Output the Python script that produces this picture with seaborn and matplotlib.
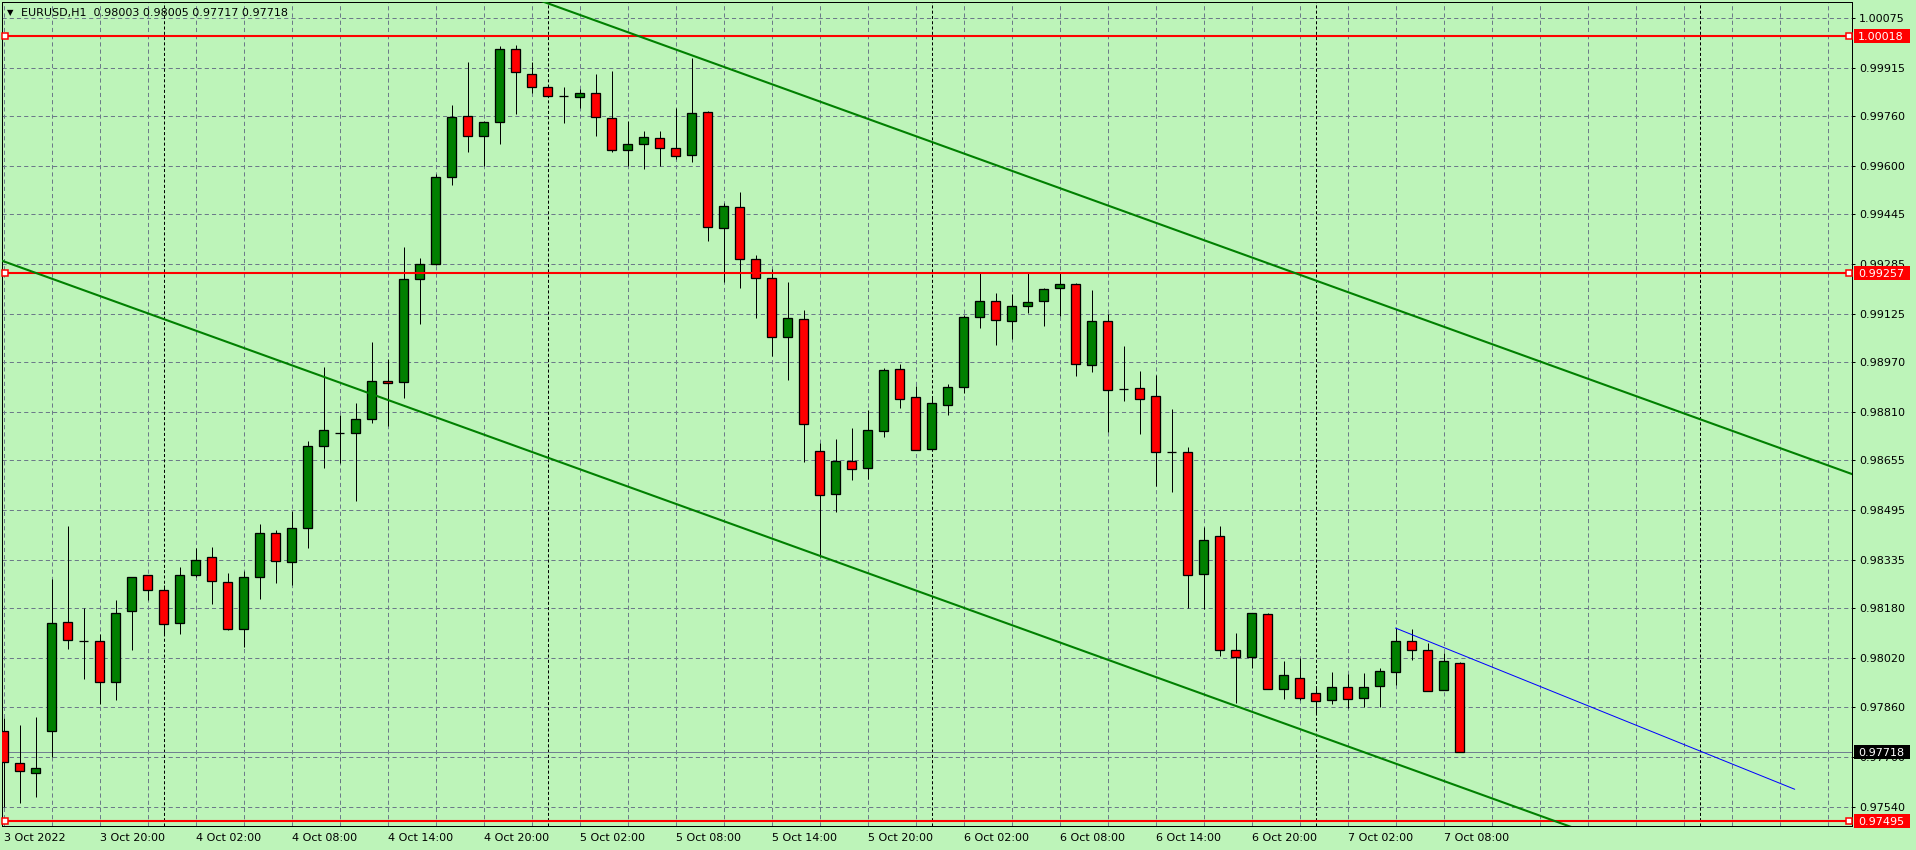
import matplotlib
matplotlib.use("Agg")
import matplotlib.pyplot as plt
from matplotlib.patches import Rectangle
import seaborn as sns

# --- data (EURUSD H1, bar 0 = 3 Oct 2022 14:00) ---
header = "EURUSD,H1  0.98003 0.98005 0.97717 0.97718"

opens = [0.97783, 0.97680, 0.97648, 0.97783, 0.98133, 0.98074, 0.98072, 0.97941, 0.98169, 0.98284,
         0.98236, 0.98130, 0.98284, 0.98342, 0.98262, 0.98111, 0.98278, 0.98419, 0.98326, 0.98435,
         0.98699, 0.98743, 0.98741, 0.98786, 0.98910, 0.98905, 0.99237, 0.99284, 0.99563, 0.99759,
         0.99695, 0.99740, 0.99974, 0.99894, 0.99852, 0.99825, 0.99820, 0.99833, 0.99753, 0.99650,
         0.99669, 0.99689, 0.99656, 0.99634, 0.99772, 0.99399, 0.99467, 0.99300, 0.99239, 0.99049,
         0.99107, 0.98683, 0.98545, 0.98651, 0.98628, 0.98747, 0.98946, 0.98856, 0.98689, 0.98831,
         0.98888, 0.99113, 0.99165, 0.99101, 0.99149, 0.99165, 0.99207, 0.99219, 0.98959, 0.99101,
         0.98882, 0.98885, 0.98860, 0.98680, 0.98680, 0.98288, 0.98410, 0.98043, 0.98021, 0.98159,
         0.97918, 0.97954, 0.97905, 0.97883, 0.97925, 0.97889, 0.97928, 0.97973, 0.98072, 0.98043,
         0.97915, 0.98003]
highs = [0.97825, 0.97803, 0.97829, 0.98274, 0.98443, 0.98178, 0.98096, 0.98205, 0.98278, 0.98285,
         0.98253, 0.98311, 0.98372, 0.98375, 0.98292, 0.98298, 0.98449, 0.98430, 0.98491, 0.98716,
         0.98954, 0.98799, 0.98838, 0.99033, 0.98980, 0.99339, 0.99303, 0.99574, 0.99795, 0.99934,
         0.99744, 0.99985, 0.99988, 0.99934, 0.99852, 0.99852, 0.99846, 0.99895, 0.99905, 0.99744,
         0.99712, 0.99712, 0.99785, 0.99946, 0.99775, 0.99480, 0.99515, 0.99313, 0.99268, 0.99226,
         0.99136, 0.98709, 0.98722, 0.98758, 0.98815, 0.98950, 0.98963, 0.98892, 0.98853, 0.98899,
         0.99121, 0.99257, 0.99190, 0.99188, 0.99257, 0.99207, 0.99257, 0.99223, 0.99200, 0.99123,
         0.99020, 0.98940, 0.98928, 0.98818, 0.98696, 0.98441, 0.98443, 0.98099, 0.98162, 0.98162,
         0.98009, 0.98020, 0.97929, 0.97973, 0.97966, 0.97970, 0.97986, 0.98115, 0.98111, 0.98066,
         0.98034, 0.98005]
lows = [0.97541, 0.97554, 0.97573, 0.97702, 0.98049, 0.97952, 0.97871, 0.97884, 0.98044, 0.98205,
        0.98093, 0.98097, 0.98280, 0.98193, 0.98110, 0.98055, 0.98209, 0.98259, 0.98253, 0.98373,
        0.98630, 0.98646, 0.98524, 0.98775, 0.98765, 0.98855, 0.99093, 0.99280, 0.99538, 0.99645,
        0.99600, 0.99669, 0.99768, 0.99833, 0.99823, 0.99739, 0.99787, 0.99697, 0.99645, 0.99599,
        0.99591, 0.99599, 0.99621, 0.99613, 0.99359, 0.99228, 0.99208, 0.99112, 0.98989, 0.98913,
        0.98649, 0.98344, 0.98489, 0.98591, 0.98595, 0.98730, 0.98823, 0.98686, 0.98689, 0.98800,
        0.98869, 0.99080, 0.99025, 0.99044, 0.99128, 0.99086, 0.99119, 0.98926, 0.98939, 0.98746,
        0.98845, 0.98739, 0.98572, 0.98551, 0.98179, 0.98177, 0.98026, 0.97874, 0.97987, 0.97918,
        0.97888, 0.97885, 0.97843, 0.97870, 0.97859, 0.97860, 0.97860, 0.97933, 0.98013, 0.97912,
        0.97915, 0.97717]
closes = [0.97684, 0.97655, 0.97664, 0.98130, 0.98076, 0.98074, 0.97941, 0.98162, 0.98278, 0.98236,
          0.98127, 0.98284, 0.98333, 0.98265, 0.98111, 0.98278, 0.98419, 0.98329, 0.98435, 0.98699,
          0.98750, 0.98743, 0.98786, 0.98908, 0.98901, 0.99235, 0.99285, 0.99564, 0.99756, 0.99695,
          0.99740, 0.99974, 0.99901, 0.99852, 0.99823, 0.99825, 0.99833, 0.99756, 0.99650, 0.99669,
          0.99692, 0.99656, 0.99631, 0.99769, 0.99403, 0.99470, 0.99300, 0.99239, 0.99049, 0.99110,
          0.98770, 0.98541, 0.98651, 0.98625, 0.98750, 0.98943, 0.98850, 0.98686, 0.98837, 0.98888,
          0.99113, 0.99165, 0.99104, 0.99149, 0.99162, 0.99203, 0.99219, 0.98962, 0.99101, 0.98879,
          0.98882, 0.98850, 0.98680, 0.98680, 0.98284, 0.98397, 0.98043, 0.98021, 0.98162, 0.97918,
          0.97963, 0.97889, 0.97880, 0.97925, 0.97886, 0.97925, 0.97976, 0.98072, 0.98043, 0.97912,
          0.98008, 0.97718]

x_labels = ["3 Oct 2022", "3 Oct 20:00", "4 Oct 02:00", "4 Oct 08:00", "4 Oct 14:00", "4 Oct 20:00",
            "5 Oct 02:00", "5 Oct 08:00", "5 Oct 14:00", "5 Oct 20:00", "6 Oct 02:00", "6 Oct 08:00",
            "6 Oct 14:00", "6 Oct 20:00", "7 Oct 02:00", "7 Oct 08:00"]
y_ticks = [1.00075, 0.99915, 0.99760, 0.99600, 0.99445, 0.99285, 0.99125, 0.98970, 0.98810,
           0.98655, 0.98495, 0.98335, 0.98180, 0.98020, 0.97860, 0.97700, 0.97540]
levels = [1.00018, 0.99257, 0.97495]
last_price = 0.97718
midnights = [10, 34, 58, 82, 106]          # bar index of day start
upper_bars, upper_prices = [33, 116], [1.00141, 0.98601]
lower_bars, lower_prices = [-1, 99], [0.99312, 0.97457]
short_bars, short_prices = [87, 111.95], [0.98115, 0.97597]

# --- style ---
W, H = 1916, 850
PX = 0.72
bg = "#bdf4b9"
grid_c = "#6c7a89"
sns.set_style("white", {"axes.facecolor": bg, "figure.facecolor": bg})
plt.rcParams["font.family"] = ["DejaVu Sans"]
plt.rcParams["lines.scale_dashes"] = False

fig = plt.figure(figsize=(W / 100, H / 100), dpi=100)
ax = fig.add_axes([2 / W, 24 / H, 1850 / W, 824 / H])
ax.set_xlim(-0.094, 115.53)
ax.set_ylim(0.974790, 1.001264)

# grid + period separators
ax.set_xticks(range(0, 6 * len(x_labels), 6))
ax.set_xticklabels(x_labels, ha="left")
ax.set_xticks(range(3, 116, 3), minor=True)
ax.set_yticks(y_ticks)
ax.set_yticklabels([f"{v:.5f}" for v in y_ticks])
ax.yaxis.tick_right()
ax.grid(True, which="both", color=grid_c, ls=(0, (3, 2.2)), lw=PX, zorder=0)
ax.set_axisbelow(True)
for m in midnights:
    ax.axvline(m, color="black", ls=(0, (2.2, 1.6)), lw=PX, zorder=1)

ax.tick_params(axis="y", which="major", right=True, left=False, length=2.2, width=PX,
               pad=2.9, labelsize=8, colors="black")
ax.tick_params(axis="x", which="major", length=2.9, width=PX, pad=2.2, labelsize=8, colors="black")
ax.tick_params(axis="x", which="minor", length=0)
for s in ax.spines.values():
    s.set_color("black")
    s.set_linewidth(PX)

# current price line
ax.axhline(last_price, color="#708090", lw=PX, zorder=2)

# candles
bars = list(range(len(opens)))
bottoms = [min(o, c) for o, c in zip(opens, closes)]
heights = [max(abs(c - o), 1e-6) for o, c in zip(opens, closes)]
colors = ["#008000" if c > o else ("#ff0000" if c < o else "black") for o, c in zip(opens, closes)]
ax.vlines(bars, lows, highs, color="black", lw=PX, zorder=3)
ax.bar(bars, heights, bottom=bottoms, width=0.62, color=colors, edgecolor="black",
       linewidth=PX * 1.3, zorder=4)

# horizontal levels
for lv in levels:
    ax.axhline(lv, color="#ff0000", lw=1.5, zorder=5)
    ax.plot([0.08, 115.34], [lv, lv], "s", ms=4, mfc="white", mec="#ff0000", mew=1.1,
            clip_on=False, zorder=6)

# trend lines
sns.lineplot(x=upper_bars, y=upper_prices, ax=ax, color="#008000", lw=1.5, sort=False, zorder=5)
sns.lineplot(x=lower_bars, y=lower_prices, ax=ax, color="#008000", lw=1.5, sort=False, zorder=5)
sns.lineplot(x=short_bars, y=short_prices, ax=ax, color="#0000ff", lw=PX, sort=False, zorder=5)
ax.set_xlabel("")
ax.set_ylabel("")

# price labels on the right scale
for price, face in [(levels[0], "#ff0000"), (levels[1], "#ff0000"), (levels[2], "#ff0000"),
                    (last_price, "black")]:
    ypix = ax.transData.transform((0, price))[1]
    fig.add_artist(Rectangle((1854 / W, (ypix - 7) / H), 56 / W, 14 / H, transform=fig.transFigure,
                             fc=face, ec="none", zorder=5))
    fig.text(1858 / W, ypix / H, f"{price:.5f}", color="white", fontsize=8,
             va="center_baseline", ha="left", zorder=6)

# header
fig.text(7 / W, 1 - 12.5 / H, "\u25bc", fontsize=6, va="center", ha="left", color="black")
fig.text(21 / W, 1 - 12.7 / H, header, fontsize=8, va="center", ha="left", color="black")

fig.savefig("out.png", dpi=100, facecolor=bg)
